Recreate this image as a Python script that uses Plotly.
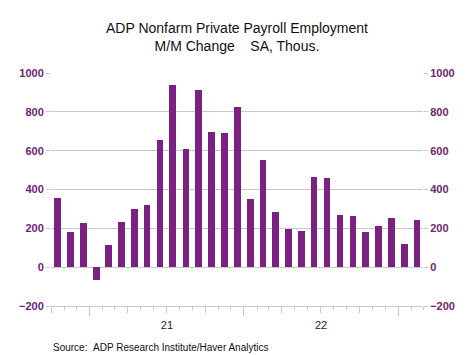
import pandas as pd
import plotly.graph_objects as go

months = pd.date_range("2020-10-01", periods=29, freq="MS")
values = [358, 180, 228, -68, 113, 231, 301, 322, 656, 938, 608, 911, 695, 690, 825,
          353, 551, 286, 199, 187, 466, 457, 267, 262, 183, 212, 252, 120, 241]
y_ticks = [-200, 0, 200, 400, 600, 800, 1000]

title = "ADP Nonfarm Private Payroll Employment<br>M/M Change&nbsp;&nbsp;&nbsp;&nbsp;SA, Thous."
source = "Source:&nbsp;&nbsp;ADP Research Institute/Haver Analytics"

BAR = "#7B2182"
LAB = "#6C2672"
GRID = "#C8C8C8"
FONT = "Arial, Liberation Sans, sans-serif"
bar_width = 16 * 86400000

fig = go.Figure()
fig.add_trace(go.Bar(x=months, y=values, xperiod="M1", xperiodalignment="middle",
                     width=bar_width, marker=dict(color=BAR, line=dict(width=0)),
                     showlegend=False, hoverinfo="skip"))
fig.add_trace(go.Bar(x=months, y=values, xperiod="M1", xperiodalignment="middle",
                     width=bar_width, marker=dict(color=BAR, line=dict(width=0)),
                     xaxis="x2", yaxis="y2", showlegend=False, hoverinfo="skip"))

xr = ["2020-10-01", "2023-03-01"]
fig.update_layout(
    width=466, height=347,
    margin=dict(l=43, r=51, t=65, b=49),
    paper_bgcolor="white", plot_bgcolor="white",
    font=dict(family=FONT),
    xaxis=dict(type="date", range=xr, tickmode="linear", tick0="2020-10-01", dtick="M3",
               ticks="outside", ticklen=6, tickcolor=GRID, tickwidth=1,
               showticklabels=False, showgrid=False, zeroline=False,
               showline=True, linecolor=GRID, linewidth=1,
               minor=dict(tickmode="linear", tick0="2020-10-01", dtick="M1",
                          ticks="outside", ticklen=3, tickcolor=GRID, showgrid=False)),
    xaxis2=dict(type="date", range=xr, overlaying="x", side="bottom", anchor="y",
                tickmode="linear", tick0="2021-01-01", dtick="M12",
                ticklabelmode="period", tickformat="%y",
                ticks="outside", ticklen=9, tickcolor=GRID, tickwidth=1,
                tickfont=dict(size=11, color="#222222", family=FONT),
                showgrid=False, zeroline=False, showline=False),
    yaxis=dict(range=[-200, 1000], tickvals=y_ticks, ticks="outside", ticklen=4,
               tickcolor=GRID, showgrid=True, gridcolor=GRID, gridwidth=1,
               zeroline=True, zerolinecolor=GRID, zerolinewidth=1,
               showline=False,
               tickfont=dict(size=11, color=LAB, family=FONT, weight="bold")),
    yaxis2=dict(range=[-200, 1000], tickvals=y_ticks, overlaying="y", side="right",
                anchor="x", ticks="outside", ticklen=4, tickcolor=GRID,
                showgrid=False, zeroline=False, showline=False,
                tickfont=dict(size=11, color=LAB, family=FONT, weight="bold")),
    bargap=0,
    annotations=[
        dict(text=title, xref="paper", yref="paper", x=0.5, y=1, yshift=36,
             xanchor="center", yanchor="middle", showarrow=False,
             font=dict(size=14, color="#111111", family=FONT)),
        dict(text=source, xref="paper", yref="paper", x=0, y=0, xshift=0, yshift=-41,
             xanchor="left", yanchor="middle", showarrow=False,
             font=dict(size=10, color="#111111", family=FONT)),
    ],
)

fig.write_html("out.html")
